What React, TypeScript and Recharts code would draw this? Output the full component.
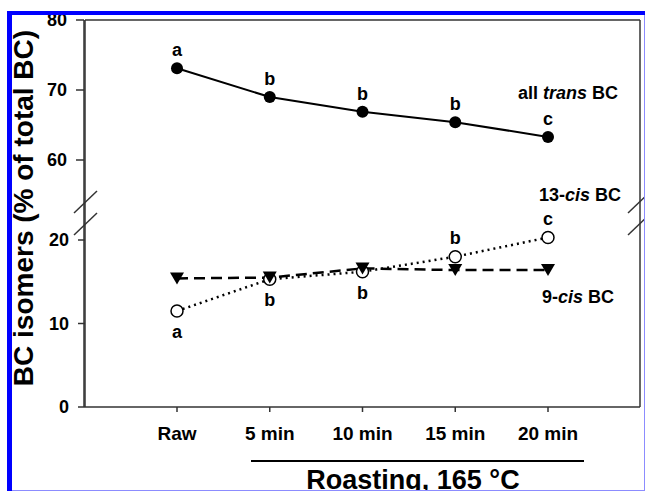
import React from "react";
import { ComposedChart, Line, XAxis, YAxis, LabelList } from "recharts";

const FONT = "'Liberation Sans', Arial, sans-serif";

const times = ["Raw", "5 min", "10 min", "15 min", "20 min"];
const allTrans = [73.1, 69.0, 66.9, 65.4, 63.3];
const cis13 = [11.5, 15.3, 16.2, 18.0, 20.3];
const cis9 = [15.4, 15.5, 16.6, 16.4, 16.4];
const transLetters = ["a", "b", "b", "b", "c"];
const cis13Letters = ["a", "b", "b", "b", "c"];
const cis13LetterBelow = [true, true, true, false, false];
const upperTicks = [60, 70, 80];
const lowerTicks = [0, 10, 20];

const data = times.map((time, i) => ({
  time,
  trans: allTrans[i],
  cis13: cis13[i],
  cis9: cis9[i],
  transSig: transLetters[i],
  cisSig: cis13Letters[i],
}));

const axisColor = "#333";
const yTickStyle = { fill: "#000", fontSize: 18, fontWeight: "bold", fontFamily: FONT };
const xTickStyle = { fill: "#000", fontSize: 19, fontWeight: "bold", fontFamily: FONT };

function letter(dyFor: (index: number) => number) {
  return (props: any) => {
    const { x, y, value, index } = props;
    return (
      <text
        key={`l-${index}`}
        x={x}
        y={y + dyFor(index)}
        textAnchor="middle"
        fontSize={18}
        fontWeight="bold"
        fontFamily={FONT}
        fill="#000"
      >
        {value}
      </text>
    );
  };
}

export default function App() {
  return (
    <div style={{ position: "absolute", left: 0, top: 0, width: 645, height: 491, background: "#fff" }}>
      <ComposedChart
        width={645}
        height={491}
        data={data}
        margin={{ top: 19, right: 4, bottom: 54, left: 83 }}
      >
        <XAxis
          dataKey="time"
          type="category"
          padding={{ left: 92, right: 92 }}
          height={30}
          tickSize={5}
          tickMargin={15}
          tick={xTickStyle}
          axisLine={{ stroke: axisColor, strokeWidth: 1.5 }}
          tickLine={{ stroke: axisColor, strokeWidth: 1.5 }}
        />
        <XAxis
          xAxisId="top"
          dataKey="time"
          orientation="top"
          height={1}
          tick={false}
          tickLine={false}
          axisLine={{ stroke: axisColor, strokeWidth: 1.5 }}
        />
        <YAxis
          yAxisId="upper"
          width={1}
          type="number"
          domain={[80 - 387 / 7, 80]}
          ticks={upperTicks}
          allowDataOverflow
          tickSize={8}
          tickMargin={9}
          tick={yTickStyle}
          axisLine={{ stroke: axisColor, strokeWidth: 1.5 }}
          tickLine={{ stroke: axisColor, strokeWidth: 1.5 }}
        />
        <YAxis
          yAxisId="lower"
          width={1}
          type="number"
          domain={[0, 387 / 8.35]}
          ticks={lowerTicks}
          allowDataOverflow
          tickSize={7}
          tickMargin={9}
          tick={yTickStyle}
          axisLine={{ stroke: axisColor, strokeWidth: 1.5 }}
          tickLine={{ stroke: axisColor, strokeWidth: 1.5 }}
        />
        <YAxis
          yAxisId="right"
          orientation="right"
          width={1}
          tick={false}
          tickLine={false}
          axisLine={{ stroke: axisColor, strokeWidth: 1.5 }}
        />
        <Line
          yAxisId="upper"
          dataKey="trans"
          stroke="#000"
          strokeWidth={2}
          isAnimationActive={false}
          dot={(p: any) => <circle key={`t-${p.index}`} cx={p.cx} cy={p.cy} r={6} fill="#000" />}
        >
          <LabelList dataKey="transSig" content={letter(() => -12)} />
        </Line>
        <Line
          yAxisId="lower"
          dataKey="cis13"
          stroke="#000"
          strokeWidth={2.5}
          strokeDasharray="2 4"
          isAnimationActive={false}
          dot={(p: any) => (
            <circle key={`c-${p.index}`} cx={p.cx} cy={p.cy} r={6} fill="#fff" stroke="#000" strokeWidth={1.5} strokeDasharray="none" />
          )}
        >
          <LabelList dataKey="cisSig" content={letter((i) => (cis13LetterBelow[i] ? 27 : -12.5))} />
        </Line>
        <Line
          yAxisId="lower"
          dataKey="cis9"
          stroke="#000"
          strokeWidth={2.5}
          strokeDasharray="11 6"
          isAnimationActive={false}
          dot={(p: any) => (
            <polygon
              key={`n-${p.index}`}
              points={`${p.cx - 7},${p.cy - 6} ${p.cx + 7},${p.cy - 6} ${p.cx},${p.cy + 6}`}
              fill="#000"
              stroke="none"
            />
          )}
        />
      </ComposedChart>
      <svg
        width={645}
        height={491}
        style={{ position: "absolute", left: 0, top: 0, pointerEvents: "none" }}
        fontFamily={FONT}
        fontWeight="bold"
      >
        {/* axis break marks */}
        <g stroke={axisColor} strokeWidth={1.5}>
          <line x1={74} y1={213} x2={97} y2={191} />
          <line x1={74} y1={235} x2={97} y2={213} />
          <line x1={628} y1={213} x2={651} y2={191} />
          <line x1={628} y1={235} x2={651} y2={213} />
        </g>
        <text x={518} y={99} fontSize={18}>
          all <tspan fontStyle="italic">trans</tspan> BC
        </text>
        <text x={539} y={201} fontSize={18}>
          13-<tspan fontStyle="italic">cis</tspan> BC
        </text>
        <text x={542} y={303} fontSize={18}>
          9-<tspan fontStyle="italic">cis</tspan> BC
        </text>
        <text x={33} y={208} fontSize={28} textAnchor="middle" transform="rotate(-90 33 208)">
          BC isomers (% of total BC)
        </text>
        <line x1={251} y1={461} x2={584} y2={461} stroke="#000" strokeWidth={2} />
        <text x={413} y={489} fontSize={27} textAnchor="middle">
          Roasting, 165 °C
        </text>
        {/* page frame */}
        <rect x={7} y={11} width={638} height={4} fill="#0000ff" />
        <rect x={7} y={11} width={5} height={480} fill="#0000ff" />
        <line x1={644.5} y1={15} x2={644.5} y2={491} stroke="#8c8cff" />
        <line x1={12} y1={490.5} x2={645} y2={490.5} stroke="#8c8cff" />
      </svg>
    </div>
  );
}
